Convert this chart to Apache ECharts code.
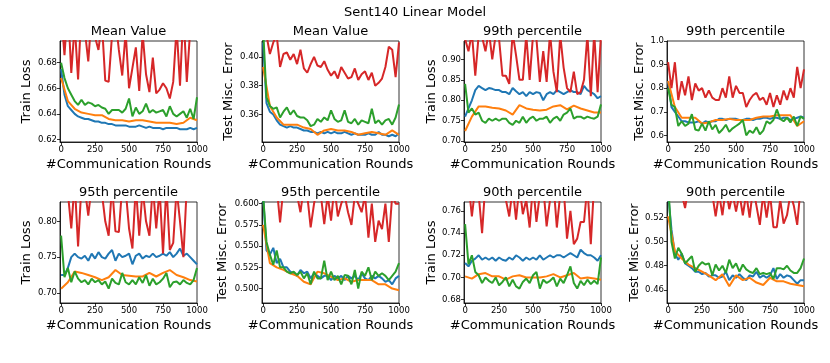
<!DOCTYPE html>
<html>
<head>
<meta charset="utf-8">
<script src="https://cdn.jsdelivr.net/npm/echarts@6/dist/echarts.min.js"></script>
<style>
  html, body { margin: 0; padding: 0; background: #fff; }
  #chart { width: 830px; height: 363px; }
</style>
</head>
<body>
<div id="chart"></div>
<script>
// rounds at which the curves were logged
const roundsFine = [0,25,50,75,100,125,150,175,200,225,250,275,300,325,350,375,400,425,450,475,500,
  525,550,575,600,625,650,675,700,725,750,775,800,825,850,875,900,925,950,975,1000]
const roundsCoarse = [0,50,100,150,200,250,300,350,400,450,500,550,600,650,700,750,800,850,900,950,1000]
const xTicks = [0, 250, 500, 750, 1000]

const panelTitles = ['Mean Value', 'Mean Value', '99th percentile', '99th percentile',
  '95th percentile', '95th percentile', '90th percentile', '90th percentile']
const yNames = ['Train Loss', 'Test Misc. Error', 'Train Loss', 'Test Misc. Error',
  'Train Loss', 'Test Misc. Error', 'Train Loss', 'Test Misc. Error']

// y tick labels per panel
const yTicks1 = [0.62, 0.64, 0.66, 0.68]
const yTicks2 = [0.36, 0.38, 0.40]
const yTicks3 = [0.70, 0.75, 0.80, 0.85, 0.90]
const yTicks4 = [0.6, 0.7, 0.8, 0.9, 1.0]
const yTicks5 = [0.70, 0.75, 0.80]
const yTicks6 = [0.500, 0.525, 0.550, 0.575, 0.600]
const yTicks7 = [0.68, 0.70, 0.72, 0.74, 0.76]
const yTicks8 = [0.46, 0.48, 0.50, 0.52]

// mean value, train loss
const blue1 = [0.675,0.655,0.646,0.643,0.640,0.638,0.637,0.636,0.636,0.635,
  0.634,0.634,0.633,0.633,0.632,0.632,0.631,0.631,0.631,0.631,
  0.630,0.630,0.630,0.631,0.630,0.629,0.630,0.629,0.629,0.629,
  0.628,0.629,0.629,0.629,0.629,0.628,0.628,0.628,0.629,0.628,0.629]
const orange1 = [0.668,0.650,0.644,0.641,0.640,0.639,0.639,0.636,0.635,0.635,
  0.634,0.635,0.635,0.634,0.633,0.633,0.633,0.632,0.633,0.637,0.635]
const green1 = [0.680,0.668,0.660,0.655,0.650,0.647,0.651,0.647,0.649,0.648,
  0.646,0.647,0.645,0.644,0.640,0.643,0.643,0.643,0.641,0.644,
  0.652,0.638,0.645,0.640,0.642,0.648,0.641,0.643,0.641,0.642,
  0.643,0.638,0.646,0.640,0.638,0.640,0.642,0.637,0.644,0.636,0.653]
const red1 = [0.720,0.686,0.725,0.672,0.710,0.667,0.722,0.705,0.681,0.718,
  0.700,0.690,0.712,0.666,0.665,0.702,0.715,0.690,0.670,0.704,
  0.660,0.676,0.692,0.658,0.703,0.671,0.657,0.684,0.656,0.659,
  0.664,0.660,0.652,0.665,0.708,0.662,0.721,0.665,0.706,0.724,0.702]

// mean value, test error
const blue2 = [0.410,0.368,0.362,0.360,0.356,0.353,0.352,0.351,0.352,0.351,
  0.351,0.350,0.349,0.349,0.348,0.348,0.347,0.348,0.347,0.348,
  0.347,0.348,0.347,0.347,0.348,0.347,0.346,0.347,0.346,0.346,
  0.346,0.347,0.346,0.346,0.348,0.346,0.346,0.345,0.346,0.345,0.347]
const orange2 = [0.393,0.366,0.358,0.353,0.353,0.353,0.351,0.350,0.346,0.349,
  0.350,0.349,0.349,0.348,0.346,0.347,0.348,0.347,0.346,0.349,0.346]
const green2 = [0.420,0.372,0.366,0.364,0.365,0.358,0.362,0.365,0.360,0.363,
  0.359,0.358,0.358,0.356,0.352,0.353,0.357,0.355,0.358,0.356,
  0.363,0.357,0.355,0.356,0.363,0.355,0.354,0.357,0.353,0.356,
  0.355,0.354,0.364,0.354,0.356,0.353,0.356,0.357,0.353,0.358,0.367]
const red2 = [0.420,0.415,0.402,0.410,0.415,0.393,0.402,0.403,0.398,0.402,
  0.395,0.405,0.392,0.389,0.395,0.400,0.394,0.393,0.397,0.391,
  0.387,0.390,0.385,0.393,0.389,0.385,0.386,0.392,0.384,0.388,
  0.390,0.384,0.389,0.380,0.382,0.385,0.393,0.407,0.405,0.386,0.410]

// 99th percentile, train loss
const blue3 = [0.760,0.780,0.800,0.825,0.835,0.830,0.825,0.830,0.828,0.825,
  0.825,0.820,0.820,0.815,0.830,0.822,0.815,0.820,0.810,0.820,
  0.815,0.820,0.818,0.800,0.815,0.820,0.815,0.825,0.820,0.815,
  0.820,0.825,0.820,0.820,0.815,0.835,0.825,0.820,0.815,0.805,0.810]
const orange3 = [0.725,0.760,0.785,0.785,0.782,0.780,0.775,0.765,0.788,0.780,
  0.777,0.775,0.777,0.785,0.788,0.778,0.787,0.780,0.775,0.770,0.770]
const green3 = [0.840,0.770,0.780,0.765,0.770,0.750,0.745,0.755,0.750,0.755,
  0.750,0.755,0.755,0.745,0.740,0.750,0.745,0.760,0.745,0.755,
  0.760,0.750,0.755,0.755,0.760,0.745,0.755,0.760,0.750,0.765,
  0.770,0.780,0.755,0.760,0.760,0.755,0.760,0.757,0.755,0.760,0.790]
const red3 = [0.950,0.920,0.965,0.860,0.960,0.955,0.920,0.970,0.900,0.960,
  0.950,0.860,0.860,0.840,0.965,0.910,0.850,0.850,0.960,0.850,
  0.960,0.950,0.845,0.920,0.845,0.965,0.870,0.820,0.960,0.880,
  0.830,0.820,0.870,0.815,0.820,0.850,0.960,0.810,0.965,0.820,0.960]

// 99th percentile, test error
const blue4 = [0.830,0.720,0.700,0.680,0.660,0.660,0.655,0.655,0.655,0.660,
  0.650,0.660,0.655,0.660,0.660,0.670,0.670,0.665,0.670,0.670,
  0.670,0.665,0.665,0.670,0.670,0.665,0.670,0.670,0.675,0.675,
  0.670,0.675,0.675,0.670,0.675,0.675,0.665,0.670,0.675,0.680,0.675]
const orange4 = [0.830,0.720,0.675,0.675,0.675,0.650,0.655,0.665,0.665,0.670,
  0.665,0.665,0.665,0.675,0.680,0.680,0.685,0.685,0.685,0.640,0.660]
const green4 = [0.800,0.730,0.720,0.640,0.660,0.640,0.650,0.690,0.625,0.620,
  0.650,0.620,0.660,0.625,0.645,0.610,0.625,0.645,0.615,0.630,
  0.640,0.650,0.665,0.600,0.620,0.610,0.635,0.605,0.620,0.660,
  0.650,0.665,0.710,0.670,0.660,0.675,0.655,0.680,0.640,0.680,0.670]
const red4 = [0.910,0.800,0.910,0.750,0.830,0.770,0.850,0.750,0.820,0.790,
  0.800,0.760,0.790,0.760,0.750,0.750,0.800,0.760,0.850,0.760,
  0.810,0.780,0.780,0.720,0.750,0.770,0.780,0.750,0.760,0.730,
  0.780,0.720,0.770,0.730,0.790,0.750,0.800,0.760,0.890,0.800,0.880]

// 95th percentile, train loss
const blue5 = [0.725,0.725,0.735,0.750,0.755,0.750,0.748,0.752,0.745,0.755,
  0.748,0.757,0.750,0.748,0.755,0.760,0.745,0.755,0.750,0.752,
  0.755,0.740,0.752,0.755,0.748,0.752,0.750,0.755,0.750,0.752,
  0.755,0.752,0.757,0.750,0.755,0.762,0.752,0.755,0.750,0.745,0.740]
const orange5 = [0.706,0.715,0.730,0.728,0.725,0.722,0.718,0.722,0.732,0.725,
  0.724,0.723,0.723,0.728,0.723,0.728,0.732,0.725,0.722,0.718,0.716]
const green5 = [0.780,0.722,0.735,0.715,0.730,0.720,0.715,0.718,0.712,0.720,
  0.715,0.718,0.712,0.716,0.706,0.720,0.714,0.712,0.728,0.715,
  0.712,0.718,0.712,0.722,0.714,0.725,0.710,0.720,0.712,0.715,
  0.720,0.728,0.708,0.715,0.716,0.712,0.718,0.714,0.712,0.718,0.735]
const red5 = [0.845,0.850,0.840,0.790,0.855,0.765,0.850,0.845,0.808,0.850,
  0.845,0.850,0.840,0.800,0.780,0.850,0.786,0.785,0.850,0.845,
  0.790,0.762,0.850,0.780,0.845,0.800,0.780,0.850,0.790,0.845,
  0.755,0.850,0.760,0.770,0.845,0.800,0.750,0.850,0.845,0.850,0.840]

// 95th percentile, test error
const blue6 = [0.610,0.545,0.540,0.548,0.530,0.535,0.525,0.525,0.520,0.518,
  0.515,0.522,0.518,0.520,0.512,0.518,0.515,0.512,0.515,0.515,
  0.510,0.515,0.512,0.515,0.510,0.515,0.512,0.515,0.510,0.518,
  0.512,0.510,0.515,0.512,0.515,0.512,0.508,0.510,0.505,0.512,0.515]
const orange6 = [0.575,0.530,0.525,0.522,0.518,0.515,0.508,0.505,0.520,0.518,
  0.514,0.510,0.512,0.508,0.510,0.510,0.510,0.505,0.505,0.500,0.498]
const green6 = [0.610,0.555,0.540,0.528,0.545,0.525,0.525,0.520,0.518,0.520,
  0.516,0.520,0.512,0.518,0.505,0.520,0.512,0.512,0.533,0.510,
  0.520,0.510,0.515,0.505,0.516,0.515,0.505,0.522,0.500,0.520,
  0.515,0.525,0.510,0.520,0.515,0.518,0.515,0.510,0.515,0.520,0.530]
const red6 = [0.620,0.610,0.625,0.610,0.620,0.578,0.620,0.612,0.622,0.605,
  0.610,0.590,0.620,0.610,0.572,0.600,0.620,0.610,0.576,0.610,
  0.580,0.620,0.585,0.600,0.610,0.590,0.575,0.610,0.600,0.590,
  0.610,0.560,0.600,0.555,0.580,0.570,0.600,0.555,0.610,0.600,0.600]

// 90th percentile, train loss
const blue7 = [0.713,0.710,0.715,0.717,0.720,0.716,0.718,0.716,0.718,0.715,
  0.718,0.716,0.715,0.718,0.716,0.720,0.718,0.715,0.718,0.716,
  0.718,0.716,0.720,0.716,0.718,0.720,0.718,0.720,0.720,0.718,
  0.720,0.722,0.720,0.718,0.725,0.722,0.720,0.720,0.718,0.715,0.720]
const orange7 = [0.701,0.699,0.703,0.704,0.701,0.701,0.698,0.701,0.702,0.700,
  0.700,0.700,0.701,0.703,0.700,0.702,0.704,0.699,0.700,0.699,0.698]
const green7 = [0.748,0.712,0.720,0.705,0.702,0.695,0.700,0.697,0.695,0.700,
  0.693,0.696,0.700,0.692,0.698,0.692,0.690,0.696,0.699,0.695,
  0.702,0.705,0.690,0.698,0.695,0.697,0.700,0.692,0.699,0.695,
  0.702,0.710,0.695,0.690,0.697,0.693,0.698,0.694,0.697,0.694,0.718]
const red7 = [0.780,0.785,0.755,0.782,0.775,0.740,0.786,0.780,0.784,0.779,
  0.782,0.785,0.770,0.755,0.781,0.752,0.783,0.757,0.770,0.745,
  0.784,0.750,0.775,0.782,0.746,0.770,0.785,0.745,0.775,0.781,
  0.735,0.760,0.730,0.735,0.750,0.750,0.783,0.730,0.786,0.780,0.782]

// 90th percentile, test error
const blue8 = [0.540,0.510,0.490,0.485,0.490,0.482,0.480,0.478,0.475,0.475,
  0.473,0.474,0.471,0.472,0.472,0.470,0.471,0.475,0.468,0.472,
  0.470,0.473,0.470,0.468,0.472,0.471,0.475,0.470,0.472,0.470,
  0.472,0.478,0.469,0.473,0.470,0.472,0.471,0.468,0.465,0.468,0.468]
const orange8 = [0.521,0.492,0.486,0.481,0.478,0.475,0.472,0.468,0.473,0.463,
  0.472,0.468,0.470,0.466,0.464,0.470,0.467,0.467,0.465,0.464,0.463]
const green8 = [0.550,0.500,0.486,0.495,0.490,0.482,0.485,0.488,0.475,0.480,
  0.483,0.481,0.482,0.472,0.481,0.476,0.480,0.474,0.485,0.478,
  0.482,0.475,0.481,0.477,0.475,0.474,0.478,0.473,0.474,0.473,
  0.474,0.469,0.478,0.478,0.477,0.480,0.476,0.474,0.474,0.478,0.486]
const red8 = [0.560,0.550,0.555,0.545,0.540,0.528,0.545,0.550,0.540,0.550,
  0.545,0.540,0.550,0.540,0.521,0.540,0.522,0.545,0.527,0.540,
  0.525,0.540,0.522,0.540,0.520,0.545,0.530,0.514,0.540,0.520,
  0.540,0.512,0.512,0.535,0.515,0.522,0.540,0.530,0.514,0.545,0.540]

const blues = [blue1, blue2, blue3, blue4, blue5, blue6, blue7, blue8]
const oranges = [orange1, orange2, orange3, orange4, orange5, orange6, orange7, orange8]
const greens = [green1, green2, green3, green4, green5, green6, green7, green8]
const reds = [red1, red2, red3, red4, red5, red6, red7, red8]
const yTickSets = [yTicks1, yTicks2, yTicks3, yTicks4, yTicks5, yTicks6, yTicks7, yTicks8]

// layout of each subplot (pixels) and axis extents
const layout = [
  { left: 60, top: 41, yMin: 0.618, yMax: 0.697, gap: 27, dec: 2 },
  { left: 262, top: 41, yMin: 0.341, yMax: 0.411, gap: 27, dec: 2 },
  { left: 464, top: 41, yMin: 0.698, yMax: 0.945, gap: 26, dec: 2 },
  { left: 667, top: 41, yMin: 0.572, yMax: 1.0, gap: 21, dec: 1 },
  { left: 60, top: 202, yMin: 0.686, yMax: 0.827, gap: 27, dec: 2 },
  { left: 262, top: 202, yMin: 0.483, yMax: 0.602, gap: 33, dec: 3 },
  { left: 464, top: 202, yMin: 0.677, yMax: 0.768, gap: 26, dec: 2 },
  { left: 667, top: 202, yMin: 0.449, yMax: 0.533, gap: 26, dec: 2 }
]
const plotW = 137
const plotH = 101

const colors = { blue: '#1f77b4', orange: '#ff7f0e', green: '#2ca02c', red: '#d62728' }
const font = 'DejaVu Sans'

const pair = (xs, ys) => ys.map((v, i) => [xs[i], v])

const grid = []
const xAxis = []
const yAxis = []
const series = []
const graphic = [{
  type: 'text', x: 415, y: 13,
  style: { text: 'Sent140 Linear Model', font: '13px "DejaVu Sans"', fill: '#000',
    align: 'center', verticalAlign: 'middle', textAlign: 'center', textVerticalAlign: 'middle' }
}]

layout.forEach((p, i) => {
  grid.push({ left: p.left, top: p.top, width: plotW, height: plotH,
    show: true, borderColor: '#000', borderWidth: 0.8, backgroundColor: 'transparent' })

  xAxis.push({
    gridIndex: i, type: 'value', min: -8, max: 1000,
    name: '#Communication Rounds', nameLocation: 'middle', nameGap: 16,
    nameTextStyle: { fontFamily: font, fontSize: 13, color: '#000' },
    axisLine: { show: true, onZero: false, lineStyle: { color: '#000', width: 0.8 } },
    axisTick: { show: true, length: 3, customValues: xTicks, lineStyle: { color: '#000', width: 0.8 } },
    axisLabel: { customValues: xTicks, fontFamily: font, fontSize: 8.5, color: '#000', margin: 3,
      formatter: v => String(v) },
    splitLine: { show: false }
  })

  yAxis.push({
    gridIndex: i, type: 'value', min: p.yMin, max: p.yMax,
    name: yNames[i], nameLocation: 'middle', nameGap: p.gap,
    nameTextStyle: { fontFamily: font, fontSize: 13, color: '#000' },
    axisLine: { show: true, onZero: false, lineStyle: { color: '#000', width: 0.8 } },
    axisTick: { show: true, length: 3, customValues: yTickSets[i], lineStyle: { color: '#000', width: 0.8 } },
    axisLabel: { customValues: yTickSets[i], fontFamily: font, fontSize: 8.5, color: '#000', margin: 3,
      formatter: v => v.toFixed(p.dec) },
    splitLine: { show: false }
  })

  graphic.push({
    type: 'text', x: p.left + plotW / 2, y: p.top - 9,
    style: { text: panelTitles[i], font: '13px "DejaVu Sans"', fill: '#000',
      align: 'center', verticalAlign: 'middle', textAlign: 'center', textVerticalAlign: 'middle' }
  })

  const line = (data, color, z) => ({
    type: 'line', xAxisIndex: i, yAxisIndex: i, data, z,
    showSymbol: false, symbol: 'none', clip: true, silent: true,
    lineStyle: { color, width: 2 }
  })
  series.push(line(pair(roundsFine, blues[i]), colors.blue, 2))
  series.push(line(pair(roundsCoarse, oranges[i]), colors.orange, 3))
  series.push(line(pair(roundsFine, greens[i]), colors.green, 4))
  series.push(line(pair(roundsFine, reds[i]), colors.red, 5))
})

const chart = echarts.init(document.getElementById('chart'), null, { renderer: 'canvas' })
chart.setOption({
  animation: false,
  backgroundColor: '#fff',
  grid, xAxis, yAxis, series, graphic
})
</script>
</body>
</html>
